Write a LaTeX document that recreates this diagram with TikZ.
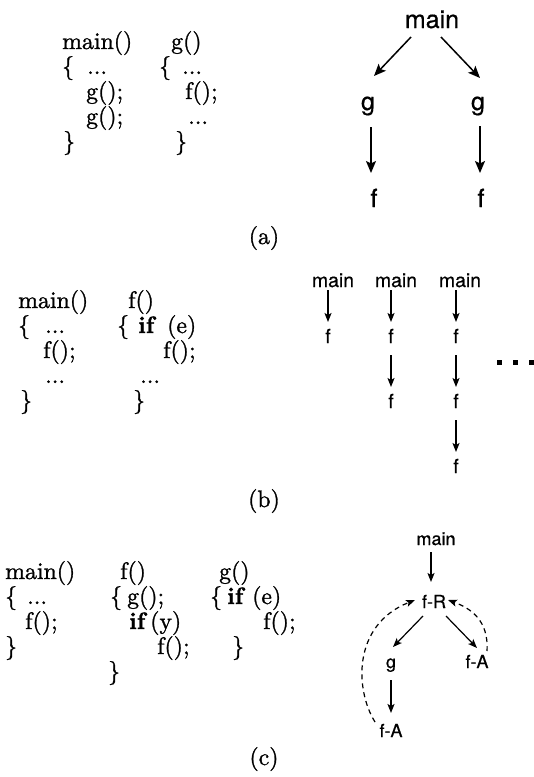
\documentclass[tikz,border=0pt]{standalone}
\usepackage{fontspec}
\newfontfamily\helv{TeX Gyre Heros}[FakeBold=0.6]
\newfontfamily\cfam{lmroman10-regular.otf}[BoldFont=lmroman10-bold.otf,FakeBold=1.2]
\usetikzlibrary{arrows.meta}
\newcommand\cfont{\cfam\fontsize{23.8}{28}\selectfont}
\begin{document}
\begin{tikzpicture}[x=1pt,y=-1pt,
  code/.style={anchor=base west,inner sep=0pt,font=\cfont},
  caption/.style={anchor=base,inner sep=0pt,font=\cfont},
  ga/.style={anchor=base,inner sep=0pt,font={\helv\fontsize{25}{30}\selectfont}},
  gb/.style={anchor=base,inner sep=0pt,font={\helv\fontsize{19.4}{23}\selectfont}},
  gcs/.style={anchor=base,inner sep=0pt,font={\helv\fontsize{18}{22}\selectfont}},
  arrA/.style={-{Stealth[length=12pt,width=10pt,inset=2.5pt]},line width=1.5pt},
  arrB/.style={-{Stealth[length=9pt,width=7pt,inset=2pt]},line width=1.2pt},
  dasharr/.style={dash pattern=on 5pt off 4pt,line width=1.2pt,-{Stealth[length=9pt,width=7pt,inset=2pt]}}
]
\useasboundingbox (0,0) rectangle (534,777);
% ---------- (a) code
\node[code] (a1) at (62,49) {main()};
\node[code] (a2) at (171,49) {g()};
\node[code] (a3) at (62,74) {\{};
\node[code] (a4) at (87,74) {...};
\node[code] (a5) at (159,74) {\{};
\node[code] (a6) at (182,74) {...};
\node[code] (a7) at (86,99) {g();};
\node[code] (a8) at (185,99) {f();};
\node[code] (a9) at (86,124) {g();};
\node[code] (a10) at (188,124) {...};
\node[code] (a11) at (63,149) {\}};
\node[code] (a12) at (175,149) {\}};
% ---------- (a) graph
\node[ga] (mA) at (432,28) {main};
\node[ga] (gA1) at (368,110) {g};
\node[ga] (gA2) at (478,110) {g};
\node[ga] (fA1) at (374,207) {f};
\node[ga] (fA2) at (481,207) {f};
\draw[arrA] ([shift={(-21,9)}]mA.base) -- ([shift={(6,-34)}]gA1.base);
\draw[arrA] ([shift={(9,9)}]mA.base) -- ([shift={(2,-32)}]gA2.base);
\draw[arrA] ([shift={(3,17)}]gA1.base) -- ([shift={(-3,-34)}]fA1.base);
\draw[arrA] ([shift={(2,16)}]gA2.base) -- ([shift={(-1,-34)}]fA2.base);
\node[caption] (la) at (264,244) {(a)};
% ---------- (b) code
\node[code] (b1) at (18,308) {main()};
\node[code] (b2) at (128,308) {f()};
\node[code] (b3) at (18,333) {\{};
\node[code] (b4) at (45,333) {...};
\node[code] (b5) at (117,333) {\{};
\node[code] (b6) at (138,333) {\textbf{if}};
\node[code] (b7) at (167,333) {(e)};
\node[code] (b8) at (43,358) {f();};
\node[code] (b9) at (163,358) {f();};
\node[code] (b10) at (45,383) {...};
\node[code] (b11) at (140,383) {...};
\node[code] (b12) at (20,408) {\}};
\node[code] (b13) at (133,408) {\}};
% ---------- (b) graph
\node[gb] (mb1) at (333,287) {main};
\node[gb] (mb2) at (396,287) {main};
\node[gb] (mb3) at (460,287) {main};
\node[gb] (fb11) at (328,343) {f};
\node[gb] (fb21) at (391,343) {f};
\node[gb] (fb22) at (391,408) {f};
\node[gb] (fb31) at (456,343) {f};
\node[gb] (fb32) at (456,408) {f};
\node[gb] (fb33) at (456,473) {f};
\draw[arrB] ([shift={(-5,3)}]mb1.base) -- ([shift={(0,-21)}]fb11.base);
\draw[arrB] ([shift={(-5,3)}]mb2.base) -- ([shift={(0,-21)}]fb21.base);
\draw[arrB] ([shift={(0,12)}]fb21.base) -- ([shift={(0,-21)}]fb22.base);
\draw[arrB] ([shift={(-4,3)}]mb3.base) -- ([shift={(0,-21)}]fb31.base);
\draw[arrB] ([shift={(0,12)}]fb31.base) -- ([shift={(0,-21)}]fb32.base);
\draw[arrB] ([shift={(0,12)}]fb32.base) -- ([shift={(0,-21)}]fb33.base);
\fill (496.5,359.5) rectangle ++(5,5);
\fill (512.5,359.5) rectangle ++(5,5);
\fill (528.5,359.5) rectangle ++(5,5);
\node[caption] (lb) at (264,507) {(b)};
% ---------- (c) code
\node[code] (c1) at (5,579) {main()};
\node[code] (c2) at (120,579) {f()};
\node[code] (c3) at (219,579) {g()};
\node[code] (c4) at (5,604) {\{};
\node[code] (c5) at (27,604) {...};
\node[code] (c6) at (110,604) {\{};
\node[code] (c7) at (127,604) {g();};
\node[code] (c8) at (210,604) {\{};
\node[code] (c9) at (227,604) {\textbf{if}};
\node[code] (c10) at (252,604) {(e)};
\node[code] (c11) at (25,629) {f();};
\node[code] (c12) at (129,629) {\textbf{if}};
\node[code] (c13) at (150,629) {(y)};
\node[code] (c14) at (263,629) {f();};
\node[code] (c15) at (5,654) {\}};
\node[code] (c16) at (157,654) {f();};
\node[code] (c17) at (232,654) {\}};
\node[code] (c18) at (108,679) {\}};
% ---------- (c) graph
\node[gcs] (mc) at (436,545) {main};
\node[gcs] (fR) at (434,608) {f-R};
\node[gcs] (gc) at (391,668) {g};
\node[gcs] (fAr) at (477,668) {f-A};
\node[gcs] (fAb) at (391,737) {f-A};
\draw[arrB] ([shift={(-5,7)}]mc.base) -- ([shift={(-3,-26)}]fR.base);
\draw[arrB] ([shift={(-11,8)}]fR.base) -- ([shift={(2,-21)}]gc.base);
\draw[arrB] ([shift={(12,8)}]fR.base) -- ([shift={(0,-20)}]fAr.base);
\draw[arrB] ([shift={(0,12)}]gc.base) -- ([shift={(0,-24)}]fAb.base);
\draw[dasharr] ([shift={(-16,-15)}]fAb.base) .. controls (355,690) and (352,625) .. ([shift={(-19,-8)}]fR.base);
\draw[dasharr] ([shift={(10,-17)}]fAr.base) .. controls (489,620) and (470,608) .. ([shift={(14,-8)}]fR.base);
\node[caption] (lc) at (264,765) {(c)};
\end{tikzpicture}
\end{document}
